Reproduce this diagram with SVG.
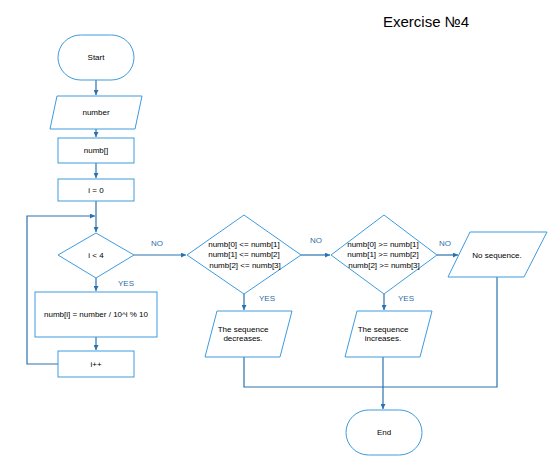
<svg xmlns="http://www.w3.org/2000/svg" width="554" height="463" viewBox="0 0 554 463">
  <style>
    .shape { fill: #ffffff; stroke: #3d9be0; stroke-width: 1; }
    .txt { font-family: "Liberation Sans", Arial, sans-serif; font-size: 8px; fill: #000000; text-anchor: middle; dominant-baseline: central; }
    .lbl { font-family: "Liberation Sans", Arial, sans-serif; font-size: 8px; fill: #2f6da5; dominant-baseline: central; }
    .edge { fill: none; stroke: #2a72ad; stroke-width: 1.2; }
    .title { font-family: "Liberation Sans", Arial, sans-serif; font-size: 15px; fill: #000000; }
  </style>
  <defs>
    <marker id="arrow" viewBox="0 0 10 10" refX="10" refY="5" markerWidth="5" markerHeight="5" orient="auto" markerUnits="userSpaceOnUse">
      <path d="M0,0 L10,5 L0,10 z" fill="#2a72ad"/>
    </marker>
  </defs>
  <rect width="554" height="463" fill="#ffffff"/>

  <text class="title" x="383" y="27">Exercise №4</text>

  <!-- connectors -->
  <g id="connectors">
    <path class="edge" d="M96,80 V95" marker-end="url(#arrow)"/>
    <path class="edge" d="M96,129 V137" marker-end="url(#arrow)"/>
    <path class="edge" d="M96,163 V178" marker-end="url(#arrow)"/>
    <path class="edge" d="M96,201 V232" marker-end="url(#arrow)"/>
    <path class="edge" d="M58,364 H27 V216 H95" marker-end="url(#arrow)"/>
    <path class="edge" d="M96,278 V291" marker-end="url(#arrow)"/>
    <path class="edge" d="M96,337 V350" marker-end="url(#arrow)"/>
    <path class="edge" d="M134,255 H186" marker-end="url(#arrow)"/>
    <path class="edge" d="M244,294 V310" marker-end="url(#arrow)"/>
    <path class="edge" d="M301,255 H330" marker-end="url(#arrow)"/>
    <path class="edge" d="M384,294 V310" marker-end="url(#arrow)"/>
    <path class="edge" d="M437,255 H458" marker-end="url(#arrow)"/>
    <path class="edge" d="M244,357 V387 H497 V277"/>
    <path class="edge" d="M383,357 V409" marker-end="url(#arrow)"/>
    <text class="lbl" x="118" y="283">YES</text>
    <text class="lbl" x="151" y="243">NO</text>
    <text class="lbl" x="259" y="298">YES</text>
    <text class="lbl" x="310" y="240">NO</text>
    <text class="lbl" x="398" y="298">YES</text>
    <text class="lbl" x="439" y="243">NO</text>
  </g>

  <g id="start">
    <rect class="shape" x="58" y="35" width="76" height="45" rx="22.5" ry="22.5"/>
    <text class="txt" x="96" y="57.5">Start</text>
  </g>
  <g id="input-number">
    <polygon class="shape" points="57,96 142,96 135,129 50,129"/>
    <text class="txt" x="96" y="112.5">number</text>
  </g>
  <g id="decl-numb">
    <rect class="shape" x="58" y="138" width="76" height="25"/>
    <text class="txt" x="96" y="150.5">numb[]</text>
  </g>
  <g id="init-i">
    <rect class="shape" x="58" y="179" width="76" height="22"/>
    <text class="txt" x="96" y="190">i = 0</text>
  </g>
  <g id="cond-i">
    <polygon class="shape" points="96,233 134,255 96,278 58,255"/>
    <text class="txt" x="96" y="255">i &lt; 4</text>
  </g>
  <g id="calc-digit">
    <rect class="shape" x="35" y="292" width="122" height="45"/>
    <text class="txt" x="96" y="314.5">numb[i] = number / 10^i % 10</text>
  </g>
  <g id="inc-i">
    <rect class="shape" x="58" y="351" width="76" height="26"/>
    <text class="txt" x="96" y="364">i++</text>
  </g>
  <g id="cond-dec">
    <polygon class="shape" points="244,215 301,255 244,294 187,255"/>
    <text class="txt" x="244" y="244">numb[0] &lt;= numb[1]</text>
    <text class="txt" x="244" y="254.5">numb[1] &lt;= numb[2]</text>
    <text class="txt" x="245" y="265">numb[2] &lt;= numb[3]</text>
  </g>
  <g id="out-dec">
    <polygon class="shape" points="217,311 292,311 280,357 205,357"/>
    <text class="txt" x="243" y="329">The sequence</text>
    <text class="txt" x="243" y="338.5">decreases.</text>
  </g>
  <g id="cond-inc">
    <polygon class="shape" points="384,215 437,255 384,294 331,255"/>
    <text class="txt" x="383" y="244">numb[0] &gt;= numb[1]</text>
    <text class="txt" x="383" y="254.5">numb[1] &gt;= numb[2]</text>
    <text class="txt" x="384" y="265">numb[2] &gt;= numb[3]</text>
  </g>
  <g id="out-inc">
    <polygon class="shape" points="357,311 432,311 420,357 345,357"/>
    <text class="txt" x="383" y="329">The sequence</text>
    <text class="txt" x="383" y="338.5">increases.</text>
  </g>
  <g id="out-none">
    <polygon class="shape" points="470,232 547,232 524,277 448,277"/>
    <text class="txt" x="497" y="255">No sequence.</text>
  </g>
  <g id="end">
    <rect class="shape" x="346" y="410" width="76" height="45" rx="22.5" ry="22.5"/>
    <text class="txt" x="384" y="432.5">End</text>
  </g>
</svg>
